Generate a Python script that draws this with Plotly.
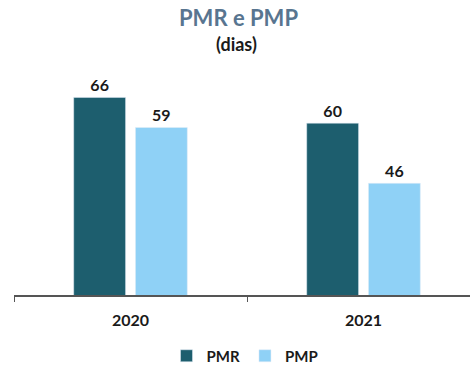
import plotly.graph_objects as go

categories = ["2020", "2021"]
pmr = [66, 60]
pmp = [59, 46]
series_names = ["PMR", "PMP"]

font_family = "Lato, 'Open Sans', sans-serif"

fig = go.Figure()
fig.add_trace(go.Bar(
    x=categories, y=pmr, name="<b>" + series_names[0] + "</b>",
    marker=dict(color="#1d5e6e"),
    text=["<b>%d</b>" % v for v in pmr], textposition="outside",
    textfont=dict(family=font_family, size=16, color="#1a1a1a"),
    cliponaxis=False,
))
fig.add_trace(go.Bar(
    x=categories, y=pmp, name="<b>" + series_names[1] + "</b>",
    marker=dict(color="#8fd1f6"),
    text=["<b>%d</b>" % v for v in pmp], textposition="outside",
    textfont=dict(family=font_family, size=16, color="#1a1a1a"),
    cliponaxis=False,
))

fig.update_layout(
    width=470, height=368,
    margin=dict(l=14, r=0, t=60, b=73, autoexpand=False),
    paper_bgcolor="white", plot_bgcolor="white",
    barmode="group", bargap=0.47, bargroupgap=0.16,
    showlegend=True,
    legend=dict(orientation="h", x=(245-14)/456, xanchor="center",
                y=-(356-295)/235, yanchor="middle",
                font=dict(family=font_family, size=15, color="#1a1a1a"),
                itemwidth=30, tracegroupgap=0),
    font=dict(family=font_family, color="#1a1a1a"),
)
fig.add_annotation(text="<b>PMR e PMP</b>", xref="paper", yref="paper",
                   x=(238-14)/456, y=1 + (60-17)/235, xanchor="center", yanchor="middle",
                   showarrow=False, font=dict(family=font_family, size=22, color="#587590"))
fig.add_annotation(text="<b>(dias)</b>", xref="paper", yref="paper",
                   x=(236-14)/456, y=1 + (60-44)/235, xanchor="center", yanchor="middle",
                   showarrow=False, font=dict(family=font_family, size=18, color="#1a1a1a"))

fig.update_xaxes(
    range=[-0.5, 1.457], showline=True, linecolor="#555555", linewidth=1.5,
    ticks="outside", tickson="boundaries", ticklen=5, tickcolor="#555555",
    tickprefix="<b>", ticksuffix="</b>", ticklabelstandoff=10,
    tickfont=dict(family=font_family, size=16, color="#1a1a1a"),
    showgrid=False, fixedrange=True,
)
fig.update_yaxes(
    range=[20, 74.7], visible=False, showgrid=False, zeroline=False,
)

fig.write_html("out.html")
